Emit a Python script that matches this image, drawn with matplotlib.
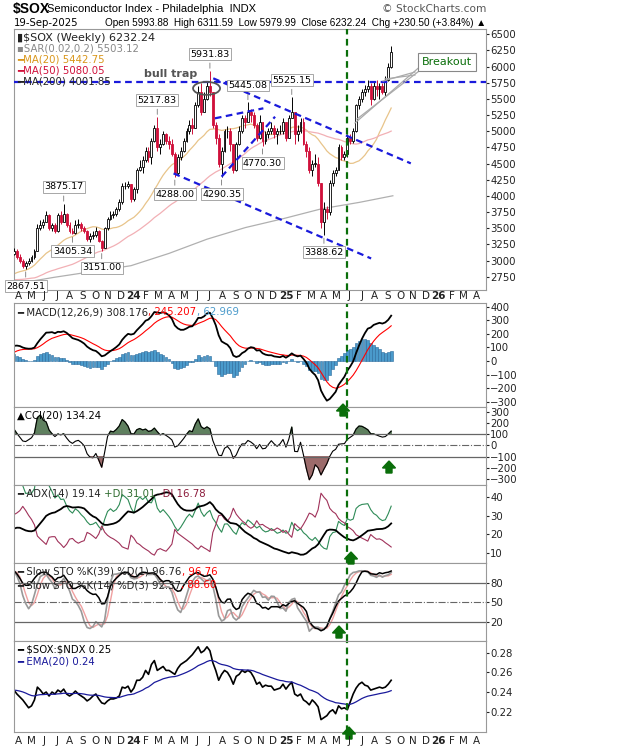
import numpy as np
import pandas as pd
import matplotlib
matplotlib.use("Agg")
import matplotlib.pyplot as plt
import matplotlib.dates as mdates
from matplotlib.patches import FancyArrow, Ellipse
from matplotlib.lines import Line2D
from matplotlib.transforms import IdentityTransform

# ---------------- DATA ----------------
warm_close = [3250,3150,3000,2950,2850,2800,2700,2650,2780,2950,2750,2500,2650,2520,2600,2750,2800,2900,2950,3000,
              2900,2750,2700,2550,2450,2400,2300,2250,2200,2300,2350,2400,2600,2650,2700,2680,2750,2600,2550,2480,
              2550,2600,2750,2800,2900,2950,2900,2950,2850,2950,3000,3100]

closes = [3150,
  3050,3000,2920,2960,  3000,3050,3150,3500,  3550,3600,3700,3500,3550,  3450,3700,3600,3720,
  3550,3450,3420,3550,  3560,3500,3450,3330,3380,  3400,3450,3300,3200,  3500,3650,3700,3720,
  3800,3900,4150,4150,4180,
  3950,4100,4400,4450,  4550,4700,4600,4850,  5050,4750,4800,4950,4850,  4800,4650,4350,4600,
  4700,4850,5000,5100,5050,  5400,5600,5300,5500,  5700,5600,5100,4900,  4500,4700,5000,5000,4800,
  4400,4800,5000,5200,  5150,5300,5250,5100,  4900,5150,4850,4950,5000,  5050,4950,5000,5000,
  5150,4900,5200,5300,4950,  5000,5150,4800,4700,  4400,4500,4500,4200,  3600,3800,3750,4200,
  4350,4400,4750,4600,4650,  4900,4850,5000,5400,  5500,5600,5650,5700,  5500,5700,5650,5700,5600,
  5800,6000,6232.24]
highs = [3200,
  3180,3100,3030,2990,  3040,3080,3180,3560,  3620,3650,3760,3720,3580,  3580,3730,3760,3875.17,
  3740,3600,3500,3620,  3640,3600,3540,3480,3420,  3460,3520,3480,3310,  3520,3680,3760,3760,
  3830,3950,4200,4220,4230,
  4180,4130,4430,4550,  4620,4750,4760,4900,  5100,5217.83,4880,5000,4980,  4920,4880,4680,4650,
  4760,4900,5050,5180,5200,  5450,5700,5750,5600,  5760,5931.83,5600,5150,  4950,4750,5030,5080,5050,
  4800,4830,5080,5250,  5250,5445.08,5350,5300,  5120,5250,5150,5000,5050,  5150,5100,5050,5100,
  5200,5150,5250,5525.15,5200,  5100,5200,5200,4850,  4750,4550,4650,4600,  4200,3900,3850,4250,
  4400,4450,4800,4780,4700,  4950,4960,5050,5420,  5550,5650,5720,5800,  5750,5760,5800,5740,5750,
  5850,6050,6311.59]
lows = [3080,
  3020,2960,2880,2867.51,  2930,2980,3030,3140,  3470,3500,3590,3480,3450,  3420,3440,3560,3590,
  3520,3430,3405.34,3410,  3500,3460,3430,3300,3290,  3330,3370,3280,3151.00,  3190,3480,3620,3660,
  3690,3770,3880,4100,4120,
  3900,3920,4050,4380,  4350,4520,4530,4500,  4840,4700,4650,4780,4800,  4720,4620,4288.00,4320,
  4560,4680,4830,4950,4950,  5050,5380,5250,5300,  5480,5550,5050,4800,  4450,4290.35,4680,4900,4700,
  4350,4380,4780,4980,  5050,5150,5150,5050,  4850,4880,4770.30,4800,4900,  4950,4900,4800,4950,
  4950,4850,4900,5200,4800,  4850,4980,4780,4600,  4350,4300,4450,4150,  3500,3388.62,3650,3700,
  4150,4300,4400,4550,4550,  4600,4800,4820,4990,  5350,5450,5550,5600,  5400,5480,5550,5500,5580,
  5550,5780,5979.99]

ratio = [0.242,0.238,0.235,0.232,0.228, 0.224,0.226,0.232,0.245, 0.242,0.238,0.240,0.236,0.240,
  0.238,0.242,0.240,0.243, 0.238,0.236,0.238,0.241, 0.238,0.236,0.234,0.231,0.233, 0.236,0.238,0.233,0.229,
  0.228,0.231,0.233,0.233, 0.234,0.236,0.245,0.244,0.246,
  0.240,0.244,0.252,0.252, 0.255,0.262,0.258,0.268, 0.272,0.262,0.264,0.266,0.262, 0.262,0.260,0.258,0.264,
  0.268,0.270,0.272,0.275,0.278, 0.282,0.286,0.280,0.282, 0.286,0.282,0.270,0.262, 0.252,0.258,0.262,0.260,0.255,
  0.248,0.256,0.258,0.262, 0.260,0.262,0.260,0.255, 0.248,0.250,0.245,0.247,0.246, 0.246,0.242,0.243,0.244,
  0.248,0.243,0.247,0.250,0.238, 0.236,0.238,0.232,0.230, 0.227,0.232,0.229,0.225, 0.212,0.214,0.216,0.220,
  0.222,0.218,0.226,0.223,0.224, 0.222,0.230,0.238,0.244, 0.248,0.250,0.247,0.246, 0.242,0.243,0.244,0.245,0.244,
  0.245,0.248,0.252]

ma200_dates = ["2023-04-01","2023-07-01","2023-10-01","2024-01-01","2024-04-01","2024-07-01","2024-10-01",
               "2025-01-01","2025-04-01","2025-07-01","2025-09-19"]
ma200_vals = [2640,2740,2830,2920,3110,3330,3510,3650,3800,3900,4001.85]

price_labels = [("2023-04-28",2867.51,"low"),("2023-07-28",3875.17,"high"),("2023-08-18",3405.34,"low"),
  ("2023-10-27",3151.00,"low"),("2024-03-08",5217.83,"high"),("2024-04-19",4288.00,"low"),
  ("2024-07-12",5931.83,"high"),("2024-08-09",4290.35,"low"),("2024-10-11",5445.08,"high"),
  ("2024-11-15",4770.30,"low"),("2025-01-24",5525.15,"high"),("2025-04-11",3388.62,"low")]

trendlines = [("2024-07-16",5819,"2025-11-01",4503),("2024-04-12",4348,"2025-07-29",3032),
              ("2024-07-20",5200,"2024-11-13",5355),("2024-08-05",4297,"2024-12-11",5225)]
resistance = 5767
signal_date = "2025-06-02"

# ---------------- PREP ----------------
n = len(closes)
dates = pd.date_range("2023-03-31", periods=n, freq="7D")
wdates = pd.date_range(end=dates[0] - pd.Timedelta(days=7), periods=len(warm_close), freq="7D")
alld = wdates.append(dates)
C = pd.Series(warm_close + closes, index=alld, dtype=float)
H = pd.Series(warm_close + highs, index=alld, dtype=float)
L = pd.Series(warm_close + lows, index=alld, dtype=float)
W = len(warm_close)
opens = [warm_close[-1]] + closes[:-1]

ma20 = C.rolling(20).mean()
ma50 = C.rolling(50).mean()
ema12 = C.ewm(span=12, adjust=False).mean(); ema26 = C.ewm(span=26, adjust=False).mean()
macd = ema12 - ema26; sig = macd.ewm(span=9, adjust=False).mean(); hist = macd - sig
tp = (H + L + C) / 3
tpm = tp.rolling(20).mean()
md = tp.rolling(20).apply(lambda x: np.mean(np.abs(x - x.mean())), raw=True)
cci = (tp - tpm) / (0.015 * md)
up = H.diff(); dn = -L.diff()
pdm = pd.Series(np.where((up > dn) & (up > 0), up, 0.0), index=alld)
mdm = pd.Series(np.where((dn > up) & (dn > 0), dn, 0.0), index=alld)
tr = pd.concat([H - L, (H - C.shift()).abs(), (L - C.shift()).abs()], axis=1).max(axis=1)
atr = tr.ewm(alpha=1/14, adjust=False).mean()
pdi = 100 * pdm.ewm(alpha=1/14, adjust=False).mean() / atr
mdi = 100 * mdm.ewm(alpha=1/14, adjust=False).mean() / atr
dx = 100 * (pdi - mdi).abs() / (pdi + mdi)
adx = dx.ewm(alpha=1/14, adjust=False).mean()
def stoch(k, s):
    fk = 100 * (C - L.rolling(k).min()) / (H.rolling(k).max() - L.rolling(k).min())
    return fk.rolling(s).mean()
k39 = stoch(39, 3); k14 = stoch(14, 3); d3 = k14.rolling(3).mean()
R = pd.Series(ratio, index=dates); rema = R.ewm(span=20, adjust=False).mean()

cd = dates - pd.Timedelta(days=4)
def vis(s): return s.iloc[W:].values

# ---------------- FIGURE ----------------
plt.rcParams["font.family"] = "DejaVu Sans"
fig = plt.figure(figsize=(6.2, 7.5), dpi=100)
X0, X1 = 14, 486
def add(top, bot):
    return fig.add_axes([X0/620, 1 - bot/750, (X1-X0)/620, (bot-top)/750])
xlim = (pd.Timestamp("2023-03-27"), pd.Timestamp("2026-04-30"))
gray = "#999999"
def style(ax, ylim, yt, ylab=None):
    ax.set_xlim(*xlim); ax.set_ylim(*ylim)
    ax.set_yticks(yt)
    if ylab: ax.set_yticklabels(ylab)
    ax.tick_params(axis="y", left=False, right=True, labelleft=False, labelright=True, labelsize=7.3, length=2, pad=1, colors="#222")
    ax.tick_params(axis="x", bottom=False, labelbottom=False)
    for s in ax.spines.values(): s.set_color(gray); s.set_linewidth(0.8)

def seq(ax, x, y, parts, fs=7.3):
    t = ax.text(x, y, parts[0][0], transform=ax.transAxes, fontsize=fs, va="top", color=parts[0][1], zorder=8)
    for txt, col in parts[1:]:
        t = ax.annotate(txt, xy=(1, 0), xycoords=t, va="bottom", ha="left", fontsize=fs, color=col, zorder=8)
    return t

month_ticks = pd.date_range("2023-04-01", "2026-04-01", freq="MS")
def month_labels(ypx):
    for m in month_ticks:
        lab = m.strftime("%b")[0]
        bold = False
        if m.month == 1:
            lab = m.strftime("%y"); bold = True
        xd = mdates.date2num(m + pd.Timedelta(days=6))
        xf = (xd - mdates.date2num(xlim[0])) / (mdates.date2num(xlim[1]) - mdates.date2num(xlim[0]))
        fig.text((X0 + xf*(X1-X0))/620, 1 - ypx/750, lab, ha="center", va="center", fontsize=7.5,
                 fontweight="bold" if bold else "normal", color="#222")

# header
fig.text(13/620, 1-9/750, "$SOX", fontsize=10, fontweight="bold", va="center", family="Liberation Sans")
fig.text(47/620, 1-9/750, "Semiconductor Index - Philadelphia  INDX", fontsize=8, va="center", family="Liberation Sans")
fig.text(486/620, 1-9/750, "© StockCharts.com", fontsize=7.6, va="center", ha="right", color="#555")
fig.text(14/620, 1-23/750, "19-Sep-2025", fontsize=7.3, va="center")
fig.text(486/620, 1-23/750, "Open 5993.88  High 6311.59  Low 5979.99  Close 6232.24  Chg +230.50 (+3.84%) ▲",
         fontsize=7.2, va="center", ha="right", family="Liberation Sans")

# ---- main
ax = add(29, 290)
style(ax, (2544, 6582), list(range(2750, 6501, 250)))
o = np.array(opens); c = np.array(closes); h = np.array(highs); l = np.array(lows)
upm = c >= o
ax.vlines(cd[upm], l[upm], h[upm], color="black", lw=0.7, zorder=3)
ax.vlines(cd[~upm], l[~upm], h[~upm], color="#d0103a", lw=0.7, zorder=3)
bw = pd.Timedelta(days=4.5)
body = np.maximum(np.abs(c - o), 8)
ax.bar(cd[upm], body[upm], bottom=np.minimum(o, c)[upm], width=bw, color="white", edgecolor="black", lw=0.6, zorder=4)
ax.bar(cd[~upm], body[~upm], bottom=np.minimum(o, c)[~upm], width=bw, color="#d0103a", edgecolor="#d0103a", lw=0.6, zorder=4)
ax.plot(cd, vis(ma20), color="#e8c48a", lw=0.9, zorder=2)
ax.plot(cd, vis(ma50), color="#f2b0b5", lw=0.9, zorder=2)
ax.plot(pd.to_datetime(ma200_dates), ma200_vals, color="#b0b0b0", lw=0.9, zorder=2)
ax.axhline(resistance, color="#1a1adb", ls=(0, (3, 2)), lw=1.6, zorder=5)
for d1, p1, d2, p2 in trendlines:
    ax.plot(pd.to_datetime([d1, d2]), [p1, p2], color="#1a1adb", ls=(0, (3, 2)), lw=1.6, zorder=5)
ax.axvline(pd.Timestamp(signal_date), color="#0a6e0a", ls=(0, (3, 2)), lw=1.6, zorder=6)
ax.add_patch(Ellipse((mdates.date2num(pd.Timestamp("2024-06-30")), 5664), 27/0.4177, 13*15.48,
             fill=False, ec="#555", lw=1.3, zorder=6))
for d, v, kind in price_labels:
    x = pd.Timestamp(d) - pd.Timedelta(days=4)
    off, va = (9, "bottom") if kind == "high" else (-9, "top")
    ax.annotate(f"{v:.2f}", (x, v), xytext=(0, off), textcoords="offset points", ha="center", va=va,
                fontsize=6.8, bbox=dict(boxstyle="square,pad=0.15", fc="white", ec="#999", lw=0.6),
                arrowprops=dict(arrowstyle="-", color="#777", lw=0.6), zorder=7)
ax.text((171-14)/472, 1 - (74-29)/261, "bull trap", transform=ax.transAxes, fontsize=8, fontweight="bold",
        color="#555", ha="center", va="center")
leg = [("▮$SOX (Weekly) 6232.24", "#222", 8), ("▪SAR(0.02,0.2) 5503.12", "#888", 7.3),
       ("━MA(20) 5442.75", "#d9961a", 7.3), ("━MA(50) 5080.05", "#d0103a", 7.3), ("━MA(200) 4001.85", "#222", 7.3)]
for i, (t, col, fs) in enumerate(leg):
    ax.text(0.007, 0.985 - i*0.042, t, transform=ax.transAxes, fontsize=fs, color=col, va="top", zorder=8)
month_labels(296)

def P(px, py): return (px, 750 - py)
for (a, b) in [((423, 64), (355, 123)), ((423, 68), (357, 119)), ((415, 72), (383, 81)), ((415, 75), (385, 79))]:
    fig.add_artist(Line2D([P(*a)[0], P(*b)[0]], [P(*a)[1], P(*b)[1]], color="#aaa", lw=0.9, transform=IdentityTransform()))
fig.text(447/620, 1-62/750, "Breakout", fontsize=8, color="#0a6e0a", ha="center", va="center",
         bbox=dict(boxstyle="square,pad=0.35", fc="white", ec="#888", lw=0.8))

def garrow(px, py):
    x, y = P(px, py)
    fig.add_artist(FancyArrow(x, y - 12, 0, 12, width=6, head_width=13, head_length=7, color="#0a6e0a",
                              length_includes_head=True, transform=IdentityTransform()))

# ---- MACD
a1 = add(303, 407)
style(a1, (-339, 427), list(range(-300, 401, 100)))
a1.bar(cd, vis(hist), width=pd.Timedelta(days=6.5), color="#4a9acb", edgecolor="#2a6a9b", lw=0.4)
a1.plot(cd, vis(sig), color="red", lw=0.8)
a1.plot(cd, vis(macd), color="black", lw=1.3)
a1.axvline(pd.Timestamp(signal_date), color="#0a6e0a", ls=(0, (3, 2)), lw=1.6)
seq(a1, 0.007, 0.96, [("━ MACD(12,26,9) 308.176", "#222"), (", 245.207", "red"), (", 62.969", "#4a9acb")])
garrow(343, 404)

# ---- CCI
a2 = add(407, 485)
style(a2, (-351, 342), list(range(-300, 301, 100)))
cv = vis(cci)
a2.fill_between(cd, 100, cv, where=cv > 100, color="#5f805f", interpolate=True)
a2.fill_between(cd, -100, cv, where=cv < -100, color="#9c6b6b", interpolate=True)
a2.plot(cd, cv, color="black", lw=0.8)
for yv in (100, -100): a2.axhline(yv, color="#666", lw=0.9)
a2.axhline(0, color="#666", lw=0.8, ls="-.")
a2.axvline(pd.Timestamp(signal_date), color="#0a6e0a", ls=(0, (3, 2)), lw=1.6)
a2.text(0.007, 0.95, "▲CCI(20) 134.24", transform=a2.transAxes, fontsize=7.3, va="top")
garrow(389, 461)

# ---- ADX
a3 = add(485, 563)
style(a3, (4.4, 46.7), [10, 20, 30, 40])
a3.plot(cd, vis(pdi), color="#2e8b57", lw=0.8)
a3.plot(cd, vis(mdi), color="#a0325a", lw=0.8)
a3.plot(cd, vis(adx), color="black", lw=1.3)
a3.axvline(pd.Timestamp(signal_date), color="#0a6e0a", ls=(0, (3, 2)), lw=1.6)
seq(a3, 0.007, 0.95, [("━ ADX(14) 19.14 ", "#222"), ("+DI 31.01 ", "#2e6b2e"), ("-DI 16.78", "#8b1a3a")])
garrow(351, 552)

# ---- STO
a4 = add(563, 641)
style(a4, (-9, 110), [20, 50, 80])
a4.plot(cd, vis(d3), color="#f0a0a0", lw=1.0)
a4.plot(cd, vis(k14), color="#999", lw=1.2)
a4.plot(cd, vis(k39), color="black", lw=1.1)
a4.axhline(80, color="#666", lw=0.9); a4.axhline(20, color="#666", lw=0.9)
a4.axhline(50, color="#666", lw=0.8, ls="-.")
a4.axvline(pd.Timestamp(signal_date), color="#0a6e0a", ls=(0, (3, 2)), lw=1.6)
seq(a4, 0.007, 0.95, [("━ Slow STO %K(39) %D(1) 96.76", "#222"), (", 96.76", "red")])
seq(a4, 0.007, 0.78, [("━ Slow STO %K(14) %D(3) 92.37", "#222"), (", 88.60", "red")])
garrow(339, 626)

# ---- ratio
a5 = add(641, 732)
style(a5, (0.1994, 0.2919), [0.22, 0.24, 0.26, 0.28], ["0.22", "0.24", "0.26", "0.28"])
a5.plot(cd, R.values, color="black", lw=1.2)
a5.plot(cd, rema.values, color="#1a1a9b", lw=0.9)
a5.axvline(pd.Timestamp(signal_date), color="#0a6e0a", ls=(0, (3, 2)), lw=1.6)
a5.text(0.007, 0.96, r"━ \$SOX:\$NDX 0.25", transform=a5.transAxes, fontsize=7.3, va="top")
a5.text(0.007, 0.83, "━ EMA(20) 0.24", transform=a5.transAxes, fontsize=7.3, va="top", color="#1a1a9b")
garrow(349, 727)
month_labels(741)

fig.savefig("out.png", dpi=100)
